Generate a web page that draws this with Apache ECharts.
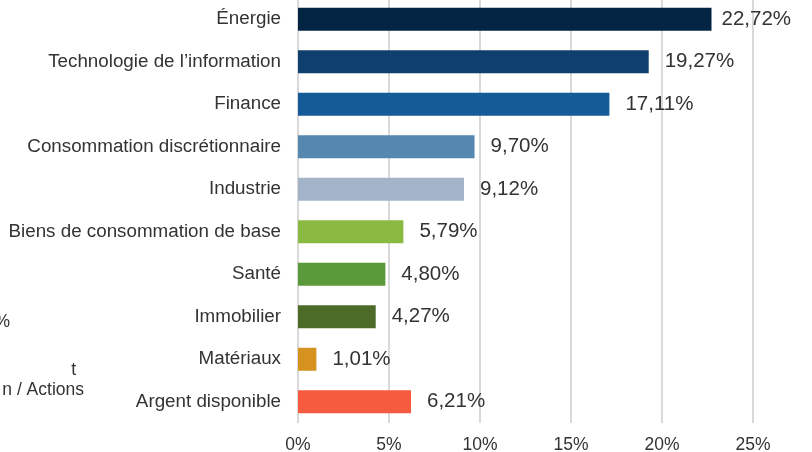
<!DOCTYPE html>
<html>
<head>
<meta charset="utf-8">
<script src="https://cdn.jsdelivr.net/npm/echarts@6/dist/echarts.min.js"></script>
<style>html,body{margin:0;padding:0;background:#fff;overflow:hidden;width:812px;height:452px}#c{width:844px;height:452px}</style>
</head>
<body>
<div id="c"></div>
<script>
const categories = ["Énergie","Technologie de l’information","Finance","Consommation discrétionnaire","Industrie","Biens de consommation de base","Santé","Immobilier","Matériaux","Argent disponible"];
const values = [22.72,19.27,17.11,9.70,9.12,5.79,4.80,4.27,1.01,6.21];
const colors = ["#032442","#0e3f6e","#155b98","#5587b0","#a3b4c9","#8aba42","#5a9a3a","#4c6a28","#d5921f","#f65a3f"];
const xTicks = [0,5,10,15,20,25,30];
const fragments = [{t:"%",x:10,y:322},{t:"t",x:76,y:370},{t:"n / Actions",x:84,y:390}];

const font = "'Liberation Sans', Arial, sans-serif";
const chart = echarts.init(document.getElementById('c'));
chart.setOption({
  animation:false,
  textStyle:{fontFamily:font},
  grid:{left:298,right:0,top:-2,bottom:29,containLabel:false,outerBoundsMode:'none'},
  xAxis:{type:'value',min:xTicks[0],max:xTicks[xTicks.length-1],interval:5,
    axisLine:{show:false},axisTick:{show:false},
    splitLine:{show:true,lineStyle:{color:'#d9d9d9',width:2}},
    axisLabel:{fontSize:17.5,color:'#333',margin:13,fontFamily:font,formatter:v=>v+'%'}},
  yAxis:{type:'category',inverse:true,data:categories,
    axisLine:{show:false},axisTick:{show:false},
    axisLabel:{fontSize:18.8,color:'#333',margin:17,fontFamily:font}},
  series:[{type:'bar',barWidth:23,
    data:values.map((v,i)=>({value:v,itemStyle:{color:colors[i]},label:i===0?{distance:10}:undefined})),
    label:{show:true,position:'right',distance:16,fontSize:20.5,color:'#333',fontFamily:font,
      formatter:p=>p.value.toFixed(2).replace('.',',')+'%'}}],
  graphic:fragments.map(f=>({type:'text',x:f.x,y:f.y,
    style:{text:f.t,font:'17.5px '+font,fill:'#333',textAlign:'right',textVerticalAlign:'middle'}}))
});
</script>
</body>
</html>
